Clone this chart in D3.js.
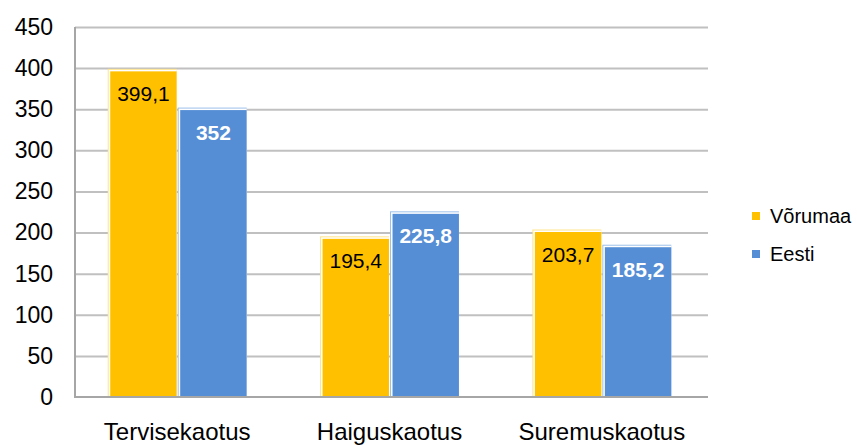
<!DOCTYPE html>
<html>
<head>
<meta charset="utf-8">
<script src="https://cdn.jsdelivr.net/npm/d3@7"></script>
<style>
  html, body { margin: 0; padding: 0; background: #fff; }
  svg { display: block; font-family: 'Liberation Sans', Arial, sans-serif; }
</style>
</head>
<body>
<div id="chart"></div>
<script>
const categories = ['Tervisekaotus', 'Haiguskaotus', 'Suremuskaotus'];
const seriesNames = ['Võrumaa', 'Eesti'];
const voruValues = [399.1, 195.4, 203.7];
const eestiValues = [352, 225.8, 185.2];
const yTicks = [0, 50, 100, 150, 200, 250, 300, 350, 400, 450];

const COLORS = { 'Võrumaa': '#ffc000', 'Eesti': '#558ed5' };
const EDGE = { 'Võrumaa': '#ffe48a', 'Eesti': '#9cc0ea' };

const w = 857;
const h = 445;
const plot = { left: 75, right: 708, top: 27, bottom: 397 };

const data = categories.map((c, i) => ({
  cat: c,
  vals: [
    { s: seriesNames[0], v: voruValues[i] },
    { s: seriesNames[1], v: eestiValues[i] },
  ],
}));

const fmt = (v) => String(v).replace('.', ',');

const svg = d3.select('#chart').append('svg').attr('width', w).attr('height', h);

const y = d3.scaleLinear().domain([0, 450]).range([plot.bottom, plot.top]);
const x0 = d3.scaleBand().domain(categories).range([plot.left - 4, plot.right])
  .paddingInner(0.336).paddingOuter(0.168);
const x1 = d3.scaleBand().domain(seriesNames).range([0, x0.bandwidth()]).padding(0.015);

// grid
svg.append('g')
  .attr('transform', `translate(${plot.left},0)`)
  .call(d3.axisLeft(y).tickValues(yTicks.filter((t) => t > 0)).tickSize(-(plot.right - plot.left)).tickFormat(''))
  .call((g) => g.select('.domain').remove())
  .selectAll('.tick line')
  .attr('stroke', '#c0c0c0')
  .attr('stroke-width', 2);

// y tick labels
svg.append('g')
  .attr('transform', `translate(${plot.left - 22},0)`)
  .call(d3.axisLeft(y).tickValues(yTicks).tickSize(0).tickPadding(0))
  .call((g) => g.select('.domain').remove())
  .selectAll('.tick text')
  .attr('fill', '#000')
  .attr('font-size', 23)
  .attr('font-family', "'Liberation Sans', Arial, sans-serif");

// bars
const groups = svg.append('g').selectAll('g')
  .data(data)
  .join('g')
  .attr('transform', (d) => `translate(${x0(d.cat)},0)`);

groups.each(function (d) {
  const g = d3.select(this);
  d.vals.forEach((b) => {
    const bx = x1(b.s);
    const bw = x1.bandwidth();
    const top = y(b.v);
    g.append('rect')
      .attr('x', bx).attr('y', top)
      .attr('width', bw).attr('height', plot.bottom - top)
      .attr('fill', EDGE[b.s]);
    g.append('rect')
      .attr('x', bx + 1).attr('y', top + 1)
      .attr('width', bw - 1).attr('height', plot.bottom - top - 1)
      .attr('fill', '#ffffff');
    g.append('rect')
      .attr('x', bx + 2.5).attr('y', top + 2.5)
      .attr('width', bw - 2.5).attr('height', plot.bottom - top - 2.5)
      .attr('fill', COLORS[b.s]);
    const isEesti = b.s === 'Eesti';
    g.append('text')
      .attr('x', bx + 2.5 + (bw - 2.5) / 2)
      .attr('y', top + 32)
      .attr('text-anchor', 'middle')
      .attr('font-size', 21)
      .attr('font-weight', isEesti ? 700 : 400)
      .attr('fill', isEesti ? '#ffffff' : '#000000')
      .text(fmt(b.v));
  });
});

// axes lines
svg.append('line')
  .attr('x1', plot.left).attr('x2', plot.left)
  .attr('y1', plot.top).attr('y2', plot.bottom + 1)
  .attr('stroke', '#a6a6a6').attr('stroke-width', 2);
svg.append('line')
  .attr('x1', plot.left).attr('x2', plot.right)
  .attr('y1', plot.bottom).attr('y2', plot.bottom)
  .attr('stroke', '#a6a6a6').attr('stroke-width', 2);

// x labels
svg.append('g')
  .attr('transform', `translate(0,${plot.bottom})`)
  .call(d3.axisBottom(x0).tickSize(0).tickPadding(0))
  .call((g) => g.select('.domain').remove())
  .selectAll('.tick text')
  .attr('dy', 0)
  .attr('y', 43)
  .attr('fill', '#000')
  .attr('font-size', 24)
  .attr('font-family', "'Liberation Sans', Arial, sans-serif");

// legend
const legend = svg.append('g').attr('transform', 'translate(752,216)');
seriesNames.forEach((s, i) => {
  const row = legend.append('g').attr('transform', `translate(0,${i * 38})`);
  row.append('rect').attr('x', 0).attr('y', -4).attr('width', 8).attr('height', 8).attr('fill', COLORS[s]);
  row.append('text')
    .attr('x', 18).attr('y', 0).attr('dy', '0.35em')
    .attr('font-size', 20)
    .attr('fill', '#000')
    .text(s);
});
</script>
</body>
</html>
